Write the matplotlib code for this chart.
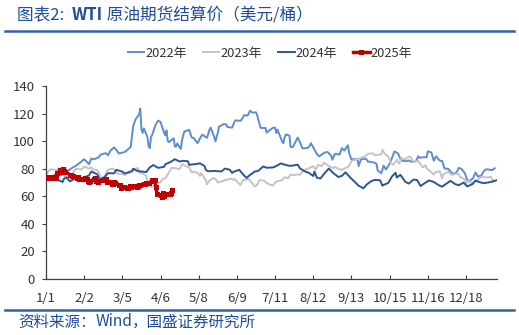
import matplotlib
matplotlib.use("Agg")
import matplotlib.pyplot as plt
import pandas as pd
from matplotlib.lines import Line2D

plt.rcParams['font.family'] = ['Noto Sans CJK SC', 'DejaVu Sans']

# WTI front-month settlement prices (USD/bbl)
dates_2022 = ["2021-12-20", "2021-12-22", "2021-12-23", "2021-12-27", "2021-12-29", "2021-12-31",
              "2022-01-03", "2022-01-05", "2022-01-07", "2022-01-11", "2022-01-13", "2022-01-18",
              "2022-01-20", "2022-01-24", "2022-01-26", "2022-01-28", "2022-02-01", "2022-02-03",
              "2022-02-07", "2022-02-09", "2022-02-11", "2022-02-14", "2022-02-16", "2022-02-18",
              "2022-02-23", "2022-02-24", "2022-02-28", "2022-03-01", "2022-03-02", "2022-03-04",
              "2022-03-07", "2022-03-08", "2022-03-09", "2022-03-10", "2022-03-11", "2022-03-14",
              "2022-03-15", "2022-03-16", "2022-03-17", "2022-03-18", "2022-03-21", "2022-03-23",
              "2022-03-25", "2022-03-28", "2022-03-29", "2022-03-30", "2022-03-31", "2022-04-01",
              "2022-04-05", "2022-04-06", "2022-04-07", "2022-04-08", "2022-04-11", "2022-04-12",
              "2022-04-13", "2022-04-14", "2022-04-18", "2022-04-20", "2022-04-22", "2022-04-25",
              "2022-04-27", "2022-04-29", "2022-05-03", "2022-05-05", "2022-05-06", "2022-05-09",
              "2022-05-10", "2022-05-12", "2022-05-13", "2022-05-17", "2022-05-19", "2022-05-20",
              "2022-05-24", "2022-05-26", "2022-05-27", "2022-05-31", "2022-06-02", "2022-06-03",
              "2022-06-06", "2022-06-08", "2022-06-10", "2022-06-13", "2022-06-14", "2022-06-15",
              "2022-06-17", "2022-06-21", "2022-06-22", "2022-06-24", "2022-06-27", "2022-06-29",
              "2022-06-30", "2022-07-01", "2022-07-05", "2022-07-06", "2022-07-07", "2022-07-08",
              "2022-07-11", "2022-07-12", "2022-07-14", "2022-07-15", "2022-07-18", "2022-07-20",
              "2022-07-22", "2022-07-26", "2022-07-28", "2022-07-29", "2022-08-01", "2022-08-03",
              "2022-08-05", "2022-08-08", "2022-08-10", "2022-08-12", "2022-08-15", "2022-08-16",
              "2022-08-18", "2022-08-19", "2022-08-22", "2022-08-24", "2022-08-26", "2022-08-29",
              "2022-08-30", "2022-09-01", "2022-09-02", "2022-09-06", "2022-09-07", "2022-09-09",
              "2022-09-13", "2022-09-15", "2022-09-16", "2022-09-20", "2022-09-22", "2022-09-23",
              "2022-09-26", "2022-09-28", "2022-09-30", "2022-10-03", "2022-10-05", "2022-10-07",
              "2022-10-10", "2022-10-12", "2022-10-14", "2022-10-17", "2022-10-19", "2022-10-21",
              "2022-10-25", "2022-10-27", "2022-10-28", "2022-11-01", "2022-11-03", "2022-11-04",
              "2022-11-07", "2022-11-09", "2022-11-11", "2022-11-14", "2022-11-16", "2022-11-18",
              "2022-11-21", "2022-11-23", "2022-11-25", "2022-11-28", "2022-11-30", "2022-12-02",
              "2022-12-05", "2022-12-07", "2022-12-09", "2022-12-12", "2022-12-14", "2022-12-16",
              "2022-12-19", "2022-12-21", "2022-12-23", "2022-12-28", "2022-12-30"]
price_2022 = [74.5, 73.2, 73.8, 75.6, 76.6, 75.2,
              76.1, 77.9, 78.9, 81.2, 82.1, 85.4,
              86.9, 83.3, 87.4, 86.8, 88.2, 90.3,
              91.3, 89.7, 93.1, 95.5, 93.7, 91.1,
              92.1, 92.8, 95.7, 103.4, 110.6, 115.7,
              119.4, 123.7, 108.7, 106.0, 109.3, 103.0,
              96.4, 95.0, 103.0, 104.7, 112.1, 114.9,
              113.9, 106.0, 104.2, 107.8, 100.3, 99.3,
              102.0, 96.2, 96.0, 98.3, 94.3, 100.6,
              104.3, 107.0, 108.2, 102.8, 102.1, 98.5,
              102.0, 104.7, 102.4, 108.3, 109.8, 103.1,
              99.8, 106.1, 110.5, 112.4, 112.2, 110.3,
              109.8, 114.1, 115.1, 114.7, 116.9, 118.9,
              118.5, 122.1, 120.7, 120.9, 118.9, 115.3,
              109.6, 109.5, 106.2, 107.6, 109.6, 109.8,
              105.8, 108.4, 99.5, 98.5, 102.7, 104.8,
              104.1, 95.8, 95.8, 97.6, 102.6, 98.9,
              94.7, 95.0, 96.4, 98.6, 93.9, 90.7,
              89.0, 90.8, 91.9, 92.1, 89.4, 86.5,
              90.5, 90.8, 90.2, 94.9, 93.1, 97.0,
              91.6, 86.6, 86.9, 86.9, 81.9, 86.8,
              87.3, 85.1, 85.1, 84.5, 83.5, 78.7,
              76.7, 82.2, 79.5, 83.6, 87.8, 92.6,
              91.1, 87.3, 85.6, 85.5, 86.0, 85.1,
              85.3, 89.1, 87.9, 88.4, 88.2, 92.6,
              91.8, 85.8, 89.0, 85.9, 85.6, 80.1,
              80.0, 77.9, 76.3, 77.2, 80.6, 80.0,
              76.9, 72.0, 71.0, 73.2, 77.3, 74.3,
              75.2, 78.3, 79.6, 79.0, 80.3]

dates_2023 = ["2022-12-19", "2022-12-21", "2022-12-23", "2022-12-28", "2022-12-30",
              "2023-01-03", "2023-01-04", "2023-01-06", "2023-01-09", "2023-01-11", "2023-01-13",
              "2023-01-18", "2023-01-20", "2023-01-24", "2023-01-26", "2023-01-27", "2023-01-31",
              "2023-02-02", "2023-02-03", "2023-02-06", "2023-02-08", "2023-02-10", "2023-02-13",
              "2023-02-15", "2023-02-17", "2023-02-21", "2023-02-23", "2023-02-24", "2023-02-28",
              "2023-03-02", "2023-03-03", "2023-03-06", "2023-03-08", "2023-03-10", "2023-03-13",
              "2023-03-15", "2023-03-17", "2023-03-20", "2023-03-22", "2023-03-24", "2023-03-27",
              "2023-03-29", "2023-03-31", "2023-04-03", "2023-04-05", "2023-04-10", "2023-04-12",
              "2023-04-14", "2023-04-18", "2023-04-20", "2023-04-21", "2023-04-25", "2023-04-27",
              "2023-04-28", "2023-05-02", "2023-05-03", "2023-05-05", "2023-05-08", "2023-05-10",
              "2023-05-12", "2023-05-16", "2023-05-18", "2023-05-19", "2023-05-23", "2023-05-25",
              "2023-05-26", "2023-05-31", "2023-06-02", "2023-06-05", "2023-06-07", "2023-06-09",
              "2023-06-12", "2023-06-14", "2023-06-16", "2023-06-20", "2023-06-22", "2023-06-23",
              "2023-06-27", "2023-06-29", "2023-06-30", "2023-07-05", "2023-07-07", "2023-07-10",
              "2023-07-12", "2023-07-14", "2023-07-18", "2023-07-20", "2023-07-21", "2023-07-25",
              "2023-07-27", "2023-07-28", "2023-07-31", "2023-08-02", "2023-08-04", "2023-08-07",
              "2023-08-09", "2023-08-11", "2023-08-15", "2023-08-17", "2023-08-18", "2023-08-22",
              "2023-08-24", "2023-08-25", "2023-08-29", "2023-08-31", "2023-09-01", "2023-09-05",
              "2023-09-07", "2023-09-08", "2023-09-12", "2023-09-14", "2023-09-15", "2023-09-19",
              "2023-09-21", "2023-09-22", "2023-09-26", "2023-09-27", "2023-09-29", "2023-10-02",
              "2023-10-04", "2023-10-06", "2023-10-09", "2023-10-11", "2023-10-13", "2023-10-16",
              "2023-10-18", "2023-10-20", "2023-10-23", "2023-10-25", "2023-10-27", "2023-10-31",
              "2023-11-02", "2023-11-03", "2023-11-07", "2023-11-09", "2023-11-10", "2023-11-14",
              "2023-11-16", "2023-11-17", "2023-11-21", "2023-11-24", "2023-11-28", "2023-11-30",
              "2023-12-01", "2023-12-05", "2023-12-06", "2023-12-08", "2023-12-12", "2023-12-14",
              "2023-12-15", "2023-12-19", "2023-12-21", "2023-12-22", "2023-12-27", "2023-12-28",
              "2023-12-29"]
price_2023 = [75.2, 78.3, 79.6, 79.0, 80.3,
              76.9, 72.8, 73.8, 74.6, 77.4, 79.9,
              79.5, 81.6, 80.1, 81.0, 79.7, 78.9,
              75.9, 73.4, 74.1, 78.5, 79.7, 80.1,
              78.6, 76.3, 76.2, 75.4, 76.3, 77.1,
              78.2, 79.7, 80.5, 76.7, 76.7, 74.8,
              67.6, 66.7, 67.6, 70.9, 69.3, 72.8,
              73.0, 75.7, 80.4, 80.6, 79.7, 83.3,
              82.5, 80.9, 77.4, 77.9, 77.1, 74.8,
              76.8, 71.7, 68.6, 71.3, 73.2, 72.6,
              70.0, 70.9, 71.9, 71.7, 72.9, 71.8,
              72.7, 68.1, 71.7, 72.2, 72.5, 70.2,
              67.1, 68.3, 71.8, 71.2, 69.5, 69.2,
              67.7, 69.9, 70.6, 71.8, 73.9, 73.0,
              75.8, 75.4, 75.8, 75.6, 77.1, 79.6,
              80.1, 80.6, 81.8, 79.5, 82.8, 81.9,
              84.4, 83.2, 81.0, 80.4, 81.3, 79.6,
              79.1, 79.8, 81.2, 83.6, 85.6, 86.7,
              87.5, 87.5, 88.8, 90.2, 90.8, 91.2,
              89.6, 90.0, 90.4, 93.7, 90.8, 88.8,
              84.2, 82.8, 86.4, 83.5, 87.7, 86.7,
              88.3, 88.8, 85.5, 85.4, 85.5, 81.0,
              82.5, 80.5, 77.4, 75.7, 77.2, 78.3,
              72.9, 75.9, 77.8, 75.5, 76.4, 76.0,
              74.1, 72.3, 69.4, 71.2, 68.6, 71.6,
              71.4, 73.9, 73.9, 73.6, 74.1, 71.8,
              71.7]

dates_2024 = ["2023-12-19", "2023-12-21", "2023-12-22", "2023-12-27", "2023-12-28", "2023-12-29",
              "2024-01-02", "2024-01-03", "2024-01-05", "2024-01-08", "2024-01-12", "2024-01-17",
              "2024-01-19", "2024-01-24", "2024-01-26", "2024-01-29", "2024-01-31", "2024-02-02",
              "2024-02-05", "2024-02-09", "2024-02-14", "2024-02-16", "2024-02-21", "2024-02-23",
              "2024-02-29", "2024-03-01", "2024-03-05", "2024-03-08", "2024-03-12", "2024-03-15",
              "2024-03-18", "2024-03-21", "2024-03-22", "2024-03-27", "2024-03-28", "2024-04-02",
              "2024-04-05", "2024-04-09", "2024-04-12", "2024-04-16", "2024-04-17", "2024-04-19",
              "2024-04-23", "2024-04-26", "2024-04-30", "2024-05-01", "2024-05-03", "2024-05-07",
              "2024-05-10", "2024-05-14", "2024-05-17", "2024-05-21", "2024-05-23", "2024-05-24",
              "2024-05-29", "2024-05-31", "2024-06-04", "2024-06-07", "2024-06-11", "2024-06-14",
              "2024-06-18", "2024-06-21", "2024-06-26", "2024-06-28", "2024-07-03", "2024-07-05",
              "2024-07-10", "2024-07-12", "2024-07-17", "2024-07-19", "2024-07-24", "2024-07-26",
              "2024-07-30", "2024-07-31", "2024-08-02", "2024-08-05", "2024-08-08", "2024-08-12",
              "2024-08-16", "2024-08-20", "2024-08-23", "2024-08-26", "2024-08-30", "2024-09-03",
              "2024-09-06", "2024-09-10", "2024-09-13", "2024-09-17", "2024-09-20", "2024-09-24",
              "2024-09-26", "2024-09-27", "2024-10-01", "2024-10-04", "2024-10-07", "2024-10-08",
              "2024-10-11", "2024-10-15", "2024-10-18", "2024-10-22", "2024-10-25", "2024-10-28",
              "2024-10-31", "2024-11-04", "2024-11-08", "2024-11-12", "2024-11-15", "2024-11-19",
              "2024-11-22", "2024-11-26", "2024-11-29", "2024-12-03", "2024-12-06", "2024-12-10",
              "2024-12-13", "2024-12-17", "2024-12-20", "2024-12-24", "2024-12-27", "2024-12-31"]
price_2024 = [73.9, 73.9, 73.6, 74.1, 71.8, 71.7,
              70.4, 72.7, 73.8, 70.8, 72.7, 72.6,
              73.4, 75.1, 78.0, 76.8, 75.9, 72.3,
              72.8, 76.8, 76.6, 79.2, 77.9, 76.5,
              78.3, 80.0, 78.2, 78.0, 77.6, 81.0,
              82.7, 81.1, 80.6, 81.4, 83.2, 85.2,
              86.9, 85.2, 85.7, 85.4, 82.7, 83.1,
              83.4, 83.9, 81.9, 79.0, 78.1, 78.4,
              78.3, 78.0, 80.1, 79.3, 76.9, 77.7,
              79.2, 77.0, 73.3, 75.5, 77.9, 78.5,
              81.6, 80.7, 80.9, 81.5, 83.9, 83.2,
              82.1, 82.2, 82.9, 80.1, 77.6, 77.2,
              74.7, 77.9, 73.5, 72.9, 76.2, 80.1,
              76.7, 74.0, 74.8, 77.4, 73.6, 70.3,
              67.7, 65.8, 68.7, 71.2, 71.9, 71.6,
              67.7, 68.2, 69.8, 74.4, 77.1, 73.6,
              75.6, 70.6, 69.2, 72.1, 71.8, 67.4,
              69.3, 71.5, 70.4, 68.1, 67.0, 69.4,
              71.2, 68.8, 68.0, 69.9, 67.2, 68.6,
              71.3, 70.1, 69.5, 70.1, 70.6, 71.7]

dates_2025 = ["2025-01-02", "2025-01-03", "2025-01-06", "2025-01-07", "2025-01-08", "2025-01-09",
              "2025-01-10", "2025-01-13", "2025-01-14", "2025-01-15", "2025-01-16", "2025-01-17",
              "2025-01-21", "2025-01-22", "2025-01-23", "2025-01-24", "2025-01-27", "2025-01-28",
              "2025-01-29", "2025-01-30", "2025-01-31", "2025-02-03", "2025-02-04", "2025-02-05",
              "2025-02-06", "2025-02-07", "2025-02-10", "2025-02-11", "2025-02-12", "2025-02-13",
              "2025-02-14", "2025-02-18", "2025-02-19", "2025-02-20", "2025-02-21", "2025-02-24",
              "2025-02-25", "2025-02-26", "2025-02-27", "2025-02-28", "2025-03-03", "2025-03-04",
              "2025-03-05", "2025-03-06", "2025-03-07", "2025-03-10", "2025-03-11", "2025-03-12",
              "2025-03-13", "2025-03-14", "2025-03-17", "2025-03-18", "2025-03-19", "2025-03-20",
              "2025-03-21", "2025-03-24", "2025-03-25", "2025-03-26", "2025-03-27", "2025-03-28",
              "2025-03-31", "2025-04-01", "2025-04-02", "2025-04-03", "2025-04-04", "2025-04-07",
              "2025-04-08", "2025-04-09", "2025-04-10", "2025-04-11", "2025-04-14", "2025-04-15",
              "2025-04-16", "2025-04-17"]
price_2025 = [73.1, 74.0, 73.6, 74.3, 73.3, 73.9,
              76.6, 78.8, 77.5, 80.0, 78.7, 77.9,
              75.8, 75.4, 74.6, 74.7, 73.2, 73.8,
              72.6, 72.7, 72.5, 73.2, 72.7, 71.0,
              70.6, 71.0, 72.3, 73.3, 71.4, 71.3,
              70.7, 71.9, 72.3, 72.6, 70.4, 70.7,
              68.9, 68.6, 70.4, 69.8, 68.4, 68.3,
              66.3, 66.4, 67.0, 66.0, 66.3, 67.7,
              66.6, 67.2, 67.6, 66.9, 67.2, 68.1,
              68.3, 69.1, 69.0, 69.7, 69.9, 69.4,
              71.5, 71.2, 71.7, 67.0, 62.0, 60.7,
              59.6, 62.4, 60.1, 61.5, 61.5, 61.3,
              62.5, 64.7]

tick_labels = ["1/1", "2/2", "3/5", "4/6", "5/8", "6/9", "7/11", "8/12",
               "9/13", "10/15", "11/16", "12/18"]

# Earlier years are laid on the 2025 calendar with a 13-day shift
series = [
    ("2022年", dates_2022, price_2022, "2021-12-19", "#5B8DCF", 1.4),
    ("2023年", dates_2023, price_2023, "2022-12-19", "#C4C4C4", 1.4),
    ("2024年", dates_2024, price_2024, "2023-12-19", "#2D5690", 1.4),
]
RED = "#C00000"

W, H = 519, 335
fig = plt.figure(figsize=(W / 100, H / 100), dpi=100)
ax = fig.add_axes([46 / W, 1 - 279 / H, (497 - 46) / W, (279 - 86) / H])

for label, d, v, start, color, lw in series:
    x = (pd.to_datetime(d) - pd.Timestamp(start)).days
    ax.plot(x, v, color=color, lw=lw, solid_joinstyle="round", zorder=2)

x25 = (pd.to_datetime(dates_2025) - pd.Timestamp("2025-01-01")).days
ax.plot(x25, price_2025, color=RED, lw=2.5, marker="s", ms=3.6,
        markeredgewidth=0, zorder=3)

ax.set_xlim(0, 378)
ax.set_ylim(0, 140)
ax.set_yticks(range(0, 141, 20))
ax.set_xticks([32 * i for i in range(len(tick_labels))])
ax.set_xticklabels(tick_labels)

for side in ("top", "right"):
    ax.spines[side].set_visible(False)
for side in ("left", "bottom"):
    ax.spines[side].set_color("#404040")
    ax.spines[side].set_linewidth(0.9)
ax.tick_params(axis="y", direction="out", length=3, width=0.8, color="#404040",
               labelsize=9.5, labelcolor="#333333", pad=5)
ax.tick_params(axis="x", direction="in", length=3, width=0.8, color="#404040",
               labelsize=9.5, labelcolor="#333333", pad=9)

handles = [Line2D([], [], color=c, lw=lw) for _, _, _, _, c, lw in series]
handles.append(Line2D([], [], color=RED, lw=2.5, marker="s", ms=3.6, markeredgewidth=0))
fig.legend(handles, [s[0] for s in series] + ["2025年"], loc="center",
           bbox_to_anchor=(270 / W, 1 - 53 / H), ncol=4, frameon=False,
           fontsize=9.3, handlelength=1.3, handletextpad=0.1, columnspacing=1.2,
           labelcolor="#333333")


def text_run(x_px, y_px, pieces, size, color):
    """Draw text pieces one after another on a baseline, each with its own weight."""
    renderer = fig.canvas.get_renderer()
    x = x_px
    for s, weight in pieces:
        t = fig.text(x / W, 1 - y_px / H, s, fontsize=size, color=color,
                     fontweight=weight, ha="left", va="center")
        x += t.get_window_extent(renderer).width


BLUE = "#1F4E9A"
text_run(17, 15, [("图表2:  ", "normal"), ("WTI", "bold"),
                  (" 原油期货结算价（美元/桶）", "light")], 12, BLUE)
fig.add_artist(Line2D([5 / W, 514 / W], [1 - 31 / H] * 2, color="#2E63A8", lw=1.8))
fig.add_artist(Line2D([5 / W, 514 / W], [1 - 310 / H] * 2, color="#2E63A8", lw=1.8))
text_run(18, 322, [("资料来源：", "light"), ("Wind", "normal"),
                   ("，国盛证券研究所", "light")], 11.2, BLUE)

fig.savefig("out.png", dpi=100)
